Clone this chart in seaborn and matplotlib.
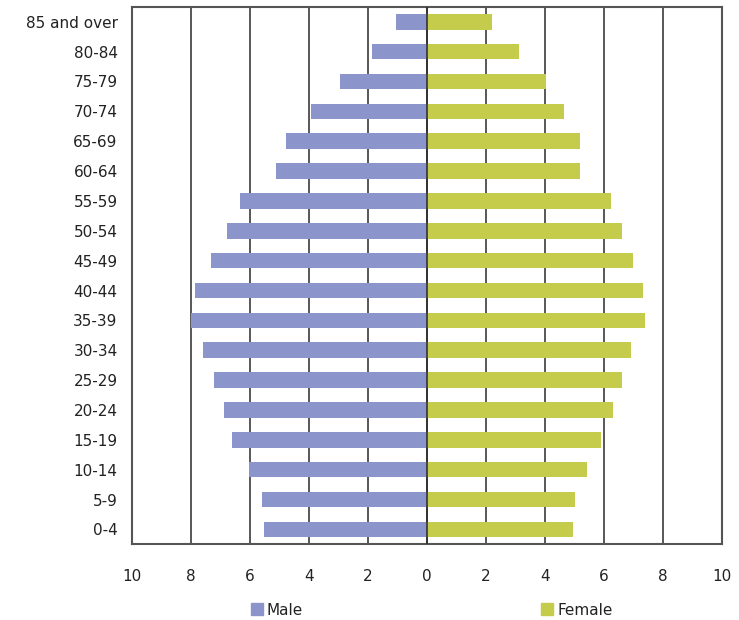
import matplotlib
matplotlib.use("Agg")
import matplotlib.pyplot as plt
import seaborn as sns
import pandas as pd
import numpy as np

age_groups = ["85 and over", "80-84", "75-79", "70-74", "65-69", "60-64",
              "55-59", "50-54", "45-49", "40-44", "35-39", "30-34",
              "25-29", "20-24", "15-19", "10-14", "5-9", "0-4"]
male = [1.03, 1.84, 2.95, 3.93, 4.78, 5.12, 6.34, 6.78, 7.32, 7.85, 7.98, 7.59,
        7.19, 6.85, 6.61, 6.03, 5.57, 5.51]
female = [2.22, 3.14, 4.06, 4.64, 5.19, 5.19, 6.25, 6.62, 7.0, 7.34, 7.41, 6.93,
          6.62, 6.31, 5.9, 5.43, 5.03, 4.97]
xticks = [-10, -8, -6, -4, -2, 0, 2, 4, 6, 8, 10]

male_color = "#8b95cb"
female_color = "#c5cc4c"

df = pd.DataFrame({
    "age": age_groups * 2,
    "value": [-v for v in male] + female,
    "sex": ["Male"] * len(male) + ["Female"] * len(female),
})

sns.set_style("white")
plt.rcParams["font.family"] = ["DejaVu Sans"]

fig = plt.figure(figsize=(7.39, 6.2), dpi=100)
ax = fig.add_axes([0.178, 0.122, 0.7986, 0.867])

for x in xticks[1:-1]:
    ax.axvline(x, color="#2a2a2a", linewidth=1.1, zorder=0)

sns.barplot(data=df, y="age", x="value", hue="sex", order=age_groups,
            palette={"Male": male_color, "Female": female_color},
            dodge=False, width=0.52, saturation=1, linewidth=0,
            legend=False, ax=ax, zorder=2)
ax.axvline(0, color="#2a2a2a", linewidth=1.1, zorder=3)

ax.set_xlim(-10, 10)
ax.set_ylim(17.5, -0.5)
ax.set_xticks(xticks)
ax.set_xticklabels([str(abs(t)) for t in xticks])
ax.tick_params(axis="x", length=0, pad=18, labelsize=11, colors="#222222")
ax.tick_params(axis="y", length=0, pad=10, labelsize=11, colors="#222222")
ax.set_xlabel("")
ax.set_ylabel("")
for s in ax.spines.values():
    s.set_visible(True)
    s.set_color("#555555")
    s.set_linewidth(1.5)

handles = [plt.Rectangle((0, 0), 1, 1, color=male_color),
           plt.Rectangle((0, 0), 1, 1, color=female_color)]
fig.legend(handles, ["Male", "Female"], loc="center", ncol=2,
           bbox_to_anchor=(0.584, 0.016), frameon=False, fontsize=11,
           handlelength=0.8, handleheight=0.8, handletextpad=0.25,
           columnspacing=15.6, labelcolor="#222222")

fig.savefig("out.png", dpi=100)
